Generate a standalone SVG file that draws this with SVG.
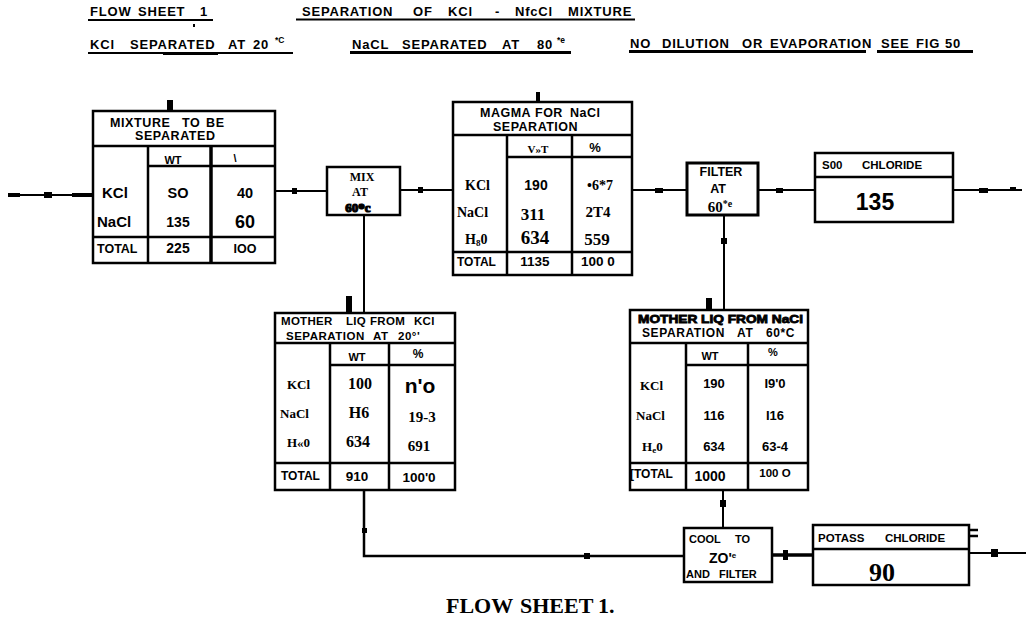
<svg xmlns="http://www.w3.org/2000/svg" width="1026" height="618" viewBox="0 0 1026 618">
<style>
.bx{fill:#fff;stroke:#000;stroke-width:2.5}
.ln{fill:none;stroke:#000;stroke-width:2.5}
.cn{fill:none;stroke:#000;stroke-width:2}
.ul{stroke:#000;stroke-width:2}
.s{font-family:"Liberation Sans",Arial,sans-serif;font-weight:bold;fill:#000}
.r{font-family:"Liberation Serif","Times New Roman",serif;font-weight:bold;fill:#000}
.h{font-size:13px;letter-spacing:0.8px}
.m{text-anchor:middle}
.blob{fill:#000}
</style>
<rect width="1026" height="618" fill="#fff"/>

<g id="header">
<text class="s h" y="16"><tspan x="90">FLOW</tspan> <tspan x="138">SHEET</tspan> <tspan x="200">1</tspan></text>
<line class="ul" x1="88" y1="20" x2="213" y2="20"/>
<rect class="blob" x="193" y="24" width="2" height="3"/>
<text class="s h" y="16"><tspan x="302">SEPARATION</tspan> <tspan x="413">OF</tspan> <tspan x="448">KCl</tspan> <tspan x="495">-</tspan> <tspan x="515">NfcCl</tspan> <tspan x="568">MIXTURE</tspan></text>
<line class="ul" x1="296" y1="19.5" x2="635" y2="19.5"/>
<text class="s h" y="49"><tspan x="90">KCl</tspan> <tspan x="130">SEPARATED</tspan> <tspan x="228">AT</tspan> <tspan x="253">20</tspan></text>
<text class="s" x="275" y="43" font-size="8.5">*C</text>
<line class="ul" x1="88" y1="53" x2="293" y2="53"/>
<rect class="blob" x="163" y="52" width="55" height="3"/>
<text class="s h" y="49"><tspan x="352">NaCL</tspan> <tspan x="402">SEPARATED</tspan> <tspan x="502">AT</tspan> <tspan x="537">80</tspan></text>
<text class="s" x="557" y="43" font-size="8.5">*e</text>
<line x1="350" y1="52.5" x2="571" y2="52.5" stroke="#000" stroke-width="3"/>
<text class="s h" y="48"><tspan x="630">NO</tspan> <tspan x="662">DILUTION</tspan> <tspan x="742">OR</tspan> <tspan x="770">EVAPORATION</tspan> <tspan x="881">SEE</tspan> <tspan x="916">FIG</tspan> <tspan x="945">50</tspan></text>
<line x1="629" y1="51.5" x2="866" y2="51.5" stroke="#000" stroke-width="3"/>
<line x1="877" y1="51.5" x2="973" y2="51.5" stroke="#000" stroke-width="3"/>
</g>

<g id="connectors">
<path class="cn" d="M8 195 H93"/>
<rect class="blob" x="8" y="193" width="12" height="4"/>
<rect class="blob" x="44" y="192" width="8" height="6"/>
<rect class="blob" x="72" y="193" width="21" height="4"/>
<path class="cn" d="M275 191 H327"/>
<rect class="blob" x="292" y="188" width="5" height="6"/>
<path class="cn" d="M400 190 H453"/>
<rect class="blob" x="418" y="187" width="5" height="6"/>
<path class="cn" d="M364 215 V313"/>
<rect class="blob" x="346" y="296" width="6" height="17"/>
<path class="cn" d="M632 190 H687"/>
<rect class="blob" x="655" y="188" width="8" height="5"/>
<path class="cn" d="M758 190 H815"/>
<rect class="blob" x="776" y="188" width="7" height="5"/>
<path class="cn" d="M953 190 H1022"/>
<rect class="blob" x="979" y="188" width="9" height="5"/>
<rect class="blob" x="1010" y="187" width="6" height="4"/>
<path class="cn" d="M724 215 V310"/>
<rect class="blob" x="721" y="238" width="6" height="6"/>
<rect class="blob" x="706" y="298" width="6" height="12"/>
<path class="ln" d="M364 490 V556 H684"/>
<rect class="blob" x="362" y="528" width="5" height="5"/>
<rect class="blob" x="584" y="553" width="6" height="6"/>
<path class="cn" d="M723 490 V528"/>
<rect class="blob" x="720" y="500" width="6" height="7"/>
<path d="M772 555 H813" stroke="#000" stroke-width="3.5"/>
<rect class="blob" x="783" y="550" width="5" height="10"/>
<path class="cn" d="M969 553 H1026"/>
<rect class="blob" x="991" y="549" width="7" height="8"/>
</g>

<g id="mixture">
<rect class="bx" x="93" y="111" width="182" height="152"/>
<path class="ln" d="M93 146 H275 M148 146 V263 M148 166 H275 M93 237 H275"/>
<path d="M211 146 V263" stroke="#000" stroke-width="3.5"/>
<rect class="blob" x="167" y="100" width="6" height="11"/>
<text class="s" y="127" font-size="12.5" letter-spacing="0.6"><tspan x="110">MIXTURE</tspan> <tspan x="182">TO</tspan> <tspan x="206">BE</tspan></text>
<text class="s" x="135" y="140" font-size="12.5" letter-spacing="0.6">SEPARATED</text>
<text class="s m" x="173" y="164" font-size="11">WT</text>
<text class="s m" x="235" y="162" font-size="11">\</text>
<text class="s" x="102" y="198" font-size="15">KCl</text>
<text class="s" x="97" y="227" font-size="15">NaCl</text>
<text class="s" x="97" y="253" font-size="12.5">TOTAL</text>
<text class="s m" x="178" y="198" font-size="14.5">SO</text>
<text class="s m" x="178" y="227" font-size="14">135</text>
<text class="s m" x="178" y="253" font-size="14">225</text>
<text class="s m" x="245" y="198" font-size="14.5">40</text>
<text class="s m" x="245" y="228" font-size="18">60</text>
<text class="s m" x="245" y="253" font-size="12.5">IOO</text>
</g>

<g id="mix">
<rect class="bx" x="327" y="167" width="73" height="48"/>
<text class="r m" x="362" y="181" font-size="12">MIX</text>
<text class="r m" x="360" y="196" font-size="12">AT</text>
<text class="r m" x="358" y="212" font-size="13" font-weight="900" stroke="#000" stroke-width="1.2">60*c</text>
</g>

<g id="magma">
<rect class="bx" x="453" y="102" width="179" height="173"/>
<path class="ln" d="M453 135 H632 M507 135 V275 M572 135 V275 M507 157 H632 M453 252 H632"/>
<rect class="blob" x="536" y="92" width="4" height="10"/>
<text class="s" y="117" font-size="12.5" letter-spacing="0.5"><tspan x="480">MAGMA</tspan> <tspan x="535">FOR</tspan> <tspan x="570">NaCl</tspan></text>
<text class="s" x="493" y="131" font-size="12.5" letter-spacing="0.5">SEPARATION</text>
<text class="r m" x="538" y="153" font-size="11">V»T</text>
<text class="s m" x="595" y="152" font-size="13">%</text>
<text class="r" x="465" y="190" font-size="14">KCl</text>
<text class="r" x="457" y="217" font-size="14">NaCl</text>
<text class="r" x="465" y="244" font-size="14">H<tspan font-size="9" dy="2">8</tspan><tspan dy="-2">0</tspan></text>
<text class="s" x="457" y="266" font-size="12">TOTAL</text>
<text class="s m" x="536" y="190" font-size="14">190</text>
<text class="r m" x="533" y="220" font-size="17">311</text>
<text class="r m" x="535" y="244" font-size="19">634</text>
<text class="s m" x="535" y="266" font-size="13.5">1135</text>
<text class="r m" x="600" y="190" font-size="14">•6*7</text>
<text class="r m" x="598" y="217" font-size="15">2T4</text>
<text class="r m" x="597" y="245" font-size="17">559</text>
<text class="s m" x="598" y="266" font-size="13.5">100 0</text>
</g>

<g id="filter">
<rect x="687" y="163" width="71" height="52" fill="#fff" stroke="#000" stroke-width="3"/>
<text class="s m" x="721" y="176" font-size="12.5">FILTER</text>
<text class="s m" x="718" y="193" font-size="12.5">AT</text>
<text class="r m" x="720" y="212" font-size="15">60<tspan font-size="10" dy="-5">*e</tspan></text>
</g>

<g id="sodium">
<rect class="bx" x="815" y="153" width="138" height="69"/>
<path class="ln" d="M815 177 H953"/>
<text class="s" y="169" font-size="11.5"><tspan x="822">S00</tspan> <tspan x="862">CHLORIDE</tspan></text>
<text class="s m" x="875" y="210" font-size="23">135</text>
</g>

<g id="motherKCl">
<rect class="bx" x="275" y="313" width="180" height="177"/>
<path class="ln" d="M275 343 H455 M330 343 V490 M389 343 V490 M330 365 H455 M275 463 H455"/>
<text class="s" y="325" font-size="11.5" letter-spacing="0.3"><tspan x="281">MOTHER</tspan> <tspan x="346">LIQ</tspan> <tspan x="370">FROM</tspan> <tspan x="414">KCl</tspan></text>
<text class="s" y="340" font-size="11.5" letter-spacing="0.5"><tspan x="286">SEPARATION</tspan> <tspan x="373">AT</tspan> <tspan x="398">20°'</tspan></text>
<text class="s m" x="357" y="361" font-size="11">WT</text>
<text class="s m" x="418" y="358" font-size="12">%</text>
<text class="r" x="287" y="389" font-size="13">KCl</text>
<text class="r" x="280" y="418" font-size="13">NaCl</text>
<text class="r" x="287" y="447" font-size="13">H«0</text>
<text class="s" x="281" y="480" font-size="12">TOTAL</text>
<text class="r m" x="360" y="389" font-size="16">100</text>
<text class="r m" x="359" y="418" font-size="16">H6</text>
<text class="r m" x="358" y="447" font-size="16">634</text>
<text class="s m" x="357" y="481" font-size="13.5">910</text>
<text class="s m" x="420" y="393" font-size="21">n'o</text>
<text class="r m" x="422" y="422" font-size="15">19-3</text>
<text class="r m" x="419" y="451" font-size="15">691</text>
<text class="s m" x="419" y="482" font-size="13.5">100'0</text>
</g>

<g id="motherNaCl">
<rect class="bx" x="630" y="310" width="178" height="180"/>
<path class="ln" d="M630 343 H808 M686 343 V490 M748 343 V490 M686 365 H808 M630 463 H808"/>
<text class="s" x="638" y="323" font-size="11" font-weight="900" stroke="#000" stroke-width="0.8" textLength="165" lengthAdjust="spacingAndGlyphs">MOTHER LIQ FROM NaCl</text>
<text class="s" y="337" font-size="12" letter-spacing="0.6"><tspan x="642">SEPARATION</tspan> <tspan x="737">AT</tspan> <tspan x="766">60*C</tspan></text>
<text class="s m" x="710" y="360" font-size="11">WT</text>
<text class="s m" x="773" y="356" font-size="11">%</text>
<text class="r" x="640" y="390" font-size="13">KCl</text>
<text class="r" x="636" y="420" font-size="13">NaCl</text>
<text class="r" x="642" y="451" font-size="13">H<tspan font-size="9" dy="2">e</tspan><tspan dy="-2">0</tspan></text>
<text class="s" x="630" y="478" font-size="12">[TOTAL</text>
<text class="s m" x="714" y="388" font-size="13">190</text>
<text class="s m" x="714" y="420" font-size="13">116</text>
<text class="s m" x="714" y="451" font-size="13">634</text>
<text class="s m" x="710" y="481" font-size="14">1000</text>
<text class="s m" x="775" y="388" font-size="13">I9'0</text>
<text class="s m" x="775" y="420" font-size="13">I16</text>
<text class="s m" x="775" y="451" font-size="13">63-4</text>
<text class="s m" x="775" y="477" font-size="11.5">100 O</text>
</g>

<g id="cool">
<rect class="bx" x="684" y="528" width="88" height="54"/>
<text class="s" y="543" font-size="11"><tspan x="689">COOL</tspan> <tspan x="735">TO</tspan></text>
<text class="s" x="709" y="563" font-size="14">ZO'<tspan font-size="8" dy="-5">e</tspan></text>
<text class="s" y="578" font-size="11"><tspan x="686">AND</tspan> <tspan x="719">FILTER</tspan></text>
</g>

<g id="potass">
<rect class="bx" x="813" y="525" width="156" height="60"/>
<path class="ln" d="M813 549 H969"/>
<text class="s" y="542" font-size="11.5"><tspan x="818">POTASS</tspan> <tspan x="885">CHLORIDE</tspan></text>
<text class="r m" x="882" y="581" font-size="26">90</text>
<path class="ln" d="M969 530 H978 M969 536 H978"/>
</g>

<text class="r" y="613" font-size="22"><tspan x="446">FLOW</tspan> <tspan x="520">SHEET</tspan> <tspan x="598">1.</tspan></text>
</svg>
